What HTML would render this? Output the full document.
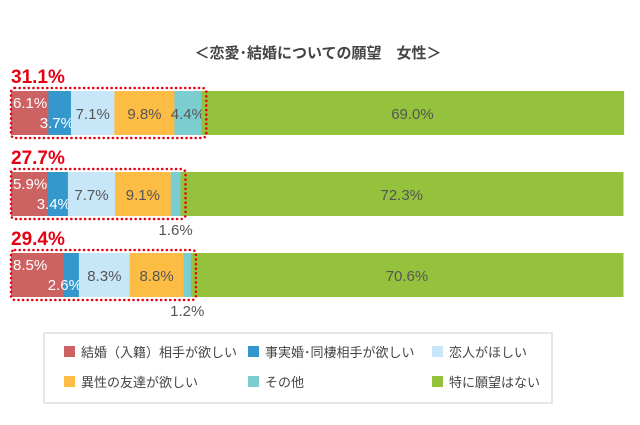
<!DOCTYPE html>
<html><head><meta charset="utf-8">
<style>
body{margin:0;background:#fff;}
svg{display:block;font-family:"Liberation Sans","Noto Sans CJK JP",sans-serif;}
</style></head>
<body>
<svg id="chart" width="640" height="425">
<text x="318" y="58" text-anchor="middle" font-size="15" font-weight="bold" fill="#444">＜恋愛･結婚についての願望　女性＞</text>
<g id="bars"></g>
<rect x="44" y="333" width="508" height="70" fill="#fff" stroke="#ccc"/>
<g id="legend"></g>
</svg>
<script>
const categories=["row1","row2","row3"];
const totals=["31.1%","27.7%","29.4%"];
const marriage=[6.1,5.9,8.5];
const cohabit=[3.7,3.4,2.6];
const lover=[7.1,7.7,8.3];
const friend=[9.8,9.1,8.8];
const other=[4.4,1.6,1.2];
const none=[69.0,72.3,70.6];
const seriesNames=["結婚（入籍）相手が欲しい","事実婚･同棲相手が欲しい","恋人がほしい","異性の友達が欲しい","その他","特に願望はない"];
const colors=["#cd6262","#3498cc","#c7e6f8","#fdbd45","#7ccdd0","#95c23c"];
const series=[marriage,cohabit,lover,friend,other,none];
const NS="http://www.w3.org/2000/svg";
const x0=11,W=612,rowTop=[91,172,253],bh=44;
const xs=v=>v/100*W;
const g=document.getElementById('bars');
function mk(t,a){const e=document.createElementNS(NS,t);for(const k in a)e.setAttribute(k,a[k]);return e;}
categories.forEach((c,i)=>{
  const y=rowTop[i];
  let x=x0;
  let boxEnd=x0;
  series.forEach((s,j)=>{
    const w=xs(s[i]);
    const r=mk('rect',{x:x,y:y,width:w+0.5,height:bh,fill:colors[j]});
    
    
    g.appendChild(r);
    const lbl=s[i].toFixed(1)+'%';
    let tx,ty,anchor='middle',fill='#555';
    if(j===0){tx=x+2;ty=y+17;anchor='start';fill='#fff';}
    else if(j===1){tx=x+w+3;ty=y+37;anchor='end';fill='#fff';}
    else if(j===4&&w<15){tx=x+w/2;ty=y+bh+19;}
    else {tx=x+w/2;ty=y+bh/2+6;}
    const t=mk('text',{x:tx,y:ty,'text-anchor':anchor,'font-size':15,fill:fill});
    t.textContent=lbl;
    
    
    g.appendChild(t);
    x+=w;
    if(j===4)boxEnd=x;
  });
  const b=mk('rect',{x:x0,y:y-3,width:boxEnd-x0+5,height:bh+6,rx:4,fill:'none',stroke:'#e60012','stroke-width':2.5,'stroke-dasharray':'0.1 4.5','stroke-linecap':'round'});
  
  
  g.appendChild(b);
  const tt=mk('text',{x:x0,y:y-8,'font-size':19,'font-weight':'bold',fill:'#e60012'});
  tt.textContent=totals[i];
  
  
  g.appendChild(tt);
});
const lg=document.getElementById('legend');
const lx=[64,248,432],ly=[352,382];
seriesNames.forEach((n,k)=>{
  const cx=lx[k%3],cy=ly[Math.floor(k/3)];
  const r=mk('rect',{x:cx,y:cy-6,width:11,height:11,fill:colors[k]});
  
  
  lg.appendChild(r);
  const t=mk('text',{x:cx+17,y:cy+5,'font-size':13,fill:'#444'});
  t.textContent=n;
  
  
  lg.appendChild(t);
});
</script>
</body></html>
